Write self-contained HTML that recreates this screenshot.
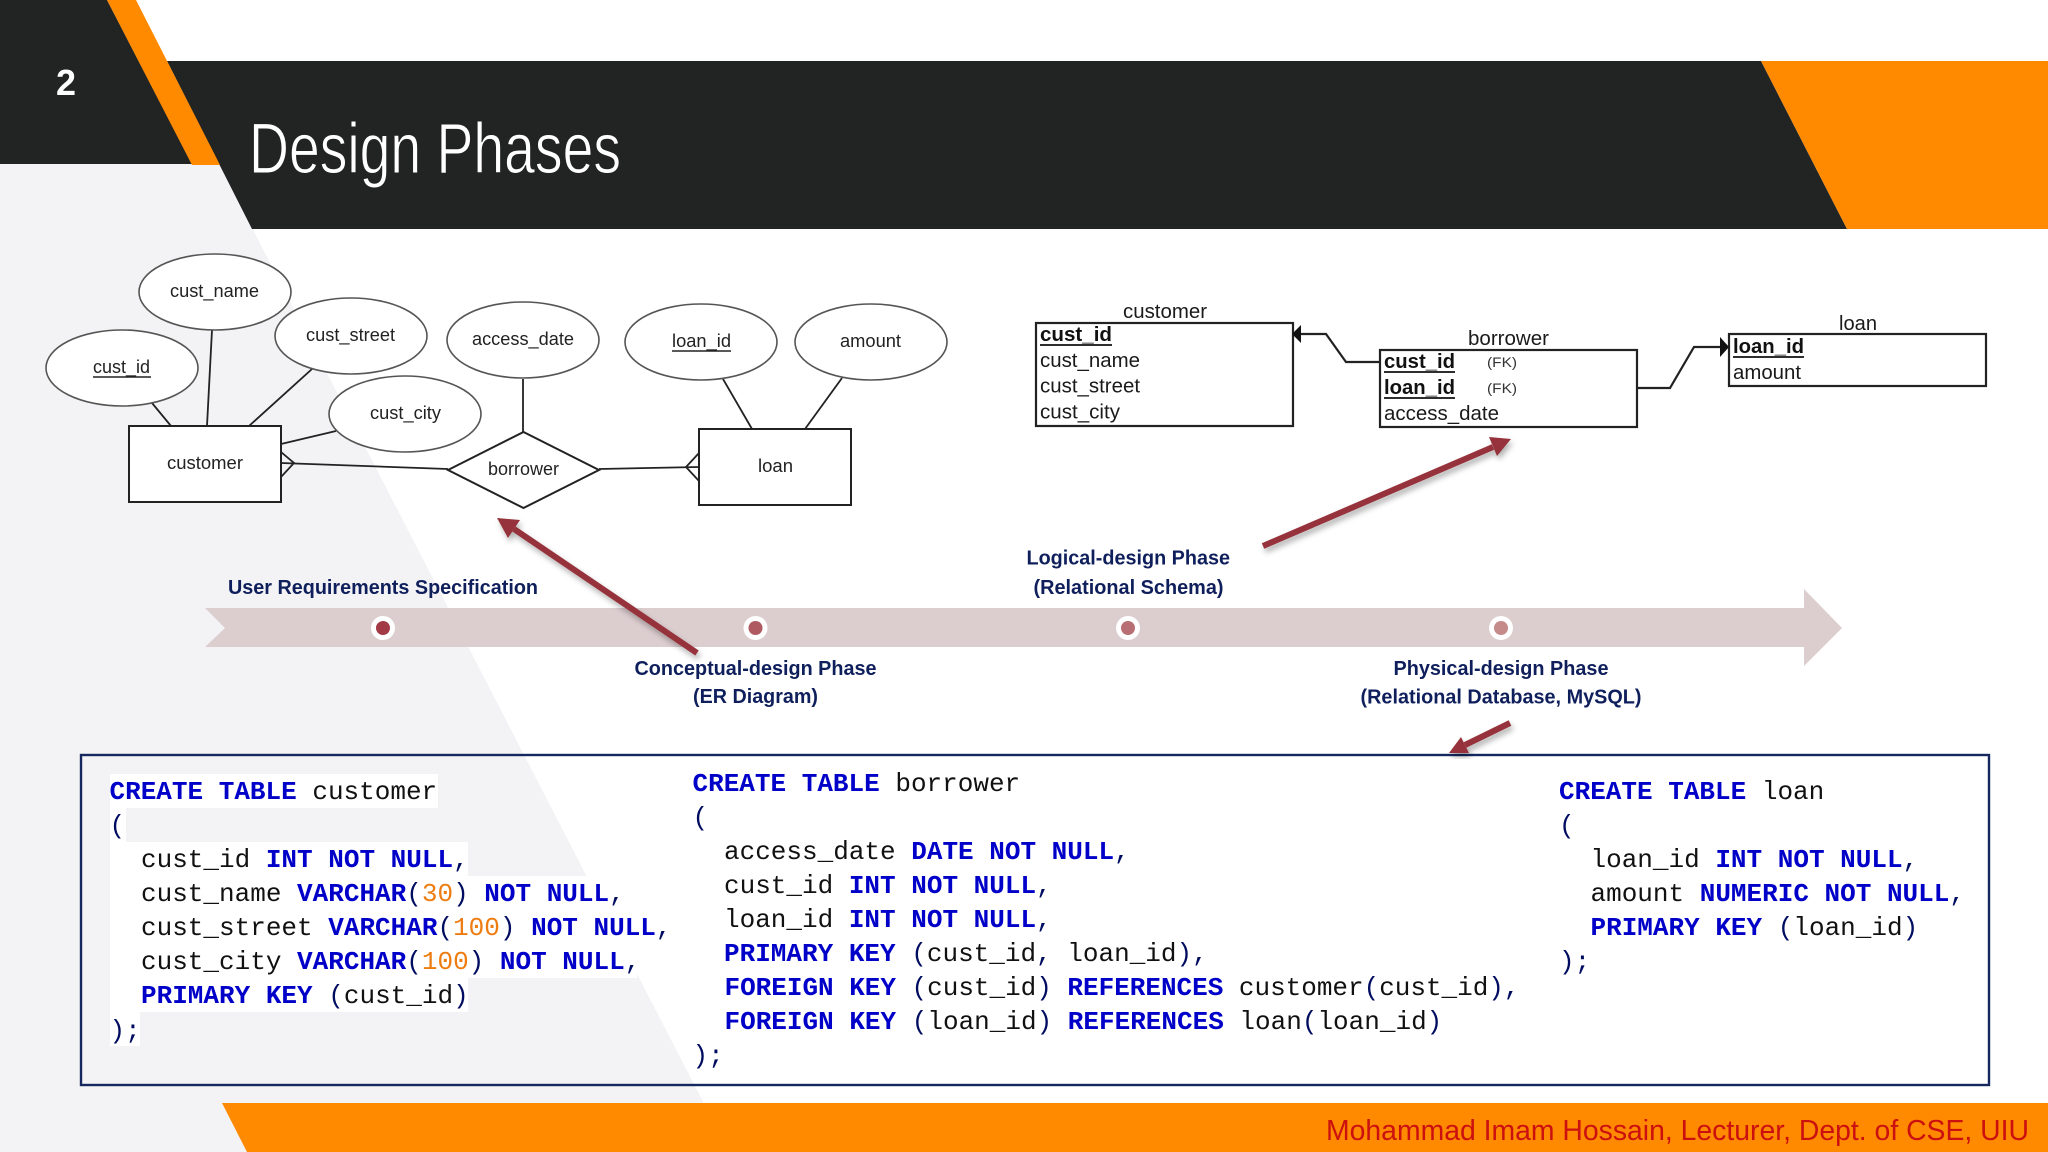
<!DOCTYPE html>
<html lang="en"><head><meta charset="utf-8"><title>Design Phases</title>
<style>
html,body{margin:0;padding:0;background:#fff}
svg{display:block}
text{font-family:"Liberation Sans",sans-serif;white-space:pre}
.er{font-size:18px;fill:#222}
.rel{font-size:20px;fill:#1a1a1a}
.relb{font-size:20px;font-weight:700;fill:#111}
.ph{font-size:20px;font-weight:700;fill:#0f1f5c}
.c{font-family:"Liberation Mono",monospace;font-size:26px;fill:#111}
.k{fill:#0000c8;font-weight:700}
.p{fill:#000c60}
.n{fill:#ee7d11}
</style></head><body>
<svg xmlns="http://www.w3.org/2000/svg" width="2048" height="1152" viewBox="0 0 2048 1152">
<defs><filter id="sh" x="-20%" y="-20%" width="140%" height="140%"><feDropShadow dx="2" dy="4" stdDeviation="3" flood-color="#000" flood-opacity="0.3"/></filter></defs>
<rect width="2048" height="1152" fill="#fff"/>
<!-- backgrounds -->
<polygon points="0,160 217,160 729,1152 0,1152" fill="#f3f3f5"/>
<polygon points="167,61 1761,61 1847,229 252,229" fill="#222323"/>
<polygon points="1761,61 2048,61 2048,229 1847,229" fill="#ff8a00"/>
<polygon points="0,0 107,0 192,164 0,164" fill="#222323"/>
<polygon points="107,0 136,0 220,165 192,165" fill="#ff8a00"/>
<polygon points="222,1103 2048,1103 2048,1152 247,1152" fill="#ff8a00"/>
<text x="56" y="95" font-size="36" font-weight="700" fill="#fff" textLength="20" lengthAdjust="spacingAndGlyphs">2</text>
<text x="249" y="173" font-size="71" fill="#fff" stroke="#222323" stroke-width="1" textLength="372" lengthAdjust="spacingAndGlyphs">Design Phases</text>
<text x="1326" y="1140" font-size="29" fill="#cc1010" textLength="703" lengthAdjust="spacingAndGlyphs">Mohammad Imam Hossain, Lecturer, Dept. of CSE, UIU</text>

<!-- ER connectors -->
<g stroke="#222" stroke-width="1.8" fill="none">
<line x1="152" y1="403" x2="171" y2="426"/>
<line x1="212" y1="330" x2="207" y2="426"/>
<line x1="312" y1="369" x2="249" y2="426"/>
<line x1="336" y1="431" x2="281" y2="444"/>
<line x1="523" y1="379" x2="523" y2="432"/>
<line x1="723" y1="379" x2="752" y2="429"/>
<line x1="842" y1="378" x2="805" y2="429"/>
<line x1="281" y1="463" x2="448" y2="469"/>
<polyline points="281,452 294,463 281,477"/>
<line x1="599" y1="469" x2="699" y2="467"/>
<polyline points="699,453 686,467 699,481"/>
</g>
<g fill="#fff" stroke="#555" stroke-width="1.6">
<ellipse cx="215" cy="292" rx="76" ry="38"/>
<ellipse cx="122" cy="368" rx="76" ry="38"/>
<ellipse cx="351" cy="336" rx="76" ry="38"/>
<ellipse cx="405" cy="414" rx="76" ry="38"/>
<ellipse cx="523" cy="340" rx="76" ry="38"/>
<ellipse cx="701" cy="342" rx="76" ry="38"/>
<ellipse cx="871" cy="342" rx="76" ry="38"/>
</g>
<g fill="#fff" stroke="#222" stroke-width="2">
<rect x="129" y="426" width="152" height="76"/>
<rect x="699" y="429" width="152" height="76"/>
<polygon points="448,470 523.5,432 599,470 523.5,508"/>
</g>
<g class="er">
<text class="er" x="170" y="297" textLength="89" lengthAdjust="spacingAndGlyphs">cust_name</text>
<text class="er" x="93" y="373" textLength="57" lengthAdjust="spacingAndGlyphs">cust_id</text>
<text class="er" x="306" y="341" textLength="89" lengthAdjust="spacingAndGlyphs">cust_street</text>
<text class="er" x="370" y="419" textLength="71" lengthAdjust="spacingAndGlyphs">cust_city</text>
<text class="er" x="472" y="345" textLength="102" lengthAdjust="spacingAndGlyphs">access_date</text>
<text class="er" x="672" y="347" textLength="59" lengthAdjust="spacingAndGlyphs">loan_id</text>
<text class="er" x="840" y="347" textLength="61" lengthAdjust="spacingAndGlyphs">amount</text>
<text class="er" x="167" y="469" textLength="76" lengthAdjust="spacingAndGlyphs">customer</text>
<text class="er" x="488" y="475" textLength="71" lengthAdjust="spacingAndGlyphs">borrower</text>
<text class="er" x="758" y="472" textLength="35" lengthAdjust="spacingAndGlyphs">loan</text>
</g>
<line x1="93" y1="377" x2="151" y2="377" stroke="#222" stroke-width="1.4"/>
<line x1="672" y1="351" x2="731" y2="351" stroke="#222" stroke-width="1.4"/>

<!-- Relational schema -->
<g fill="#fff" stroke="#222" stroke-width="2.2">
<rect x="1036" y="323" width="257" height="103"/>
<rect x="1380" y="350" width="257" height="77"/>
<rect x="1729" y="334" width="257" height="52"/>
</g>
<g fill="none" stroke="#222" stroke-width="2.2">
<polyline points="1380,362 1346,362 1326,334 1298,334"/>
<polyline points="1637,388 1670,388 1694,347 1722,347"/>
</g>
<polygon points="1292,334 1301,325 1301,343" fill="#111"/>
<polygon points="1729,347 1720,337 1720,357" fill="#111"/>
<text class="rel" x="1123" y="318" textLength="84" lengthAdjust="spacingAndGlyphs">customer</text>
<text class="relb" x="1040" y="341" textLength="72" lengthAdjust="spacingAndGlyphs">cust_id</text>
<line x1="1040" y1="345" x2="1112" y2="345" stroke="#111" stroke-width="1.8"/>
<text class="rel" x="1040" y="367" textLength="100" lengthAdjust="spacingAndGlyphs">cust_name</text>
<text class="rel" x="1040" y="392.5" textLength="100" lengthAdjust="spacingAndGlyphs">cust_street</text>
<text class="rel" x="1040" y="418.5" textLength="80" lengthAdjust="spacingAndGlyphs">cust_city</text>
<text class="rel" x="1468" y="345" textLength="81" lengthAdjust="spacingAndGlyphs">borrower</text>
<text class="relb" x="1384" y="368" textLength="71" lengthAdjust="spacingAndGlyphs">cust_id</text>
<line x1="1384" y1="372" x2="1455" y2="372" stroke="#111" stroke-width="1.8"/>
<text class="relb" x="1384" y="394" textLength="71" lengthAdjust="spacingAndGlyphs">loan_id</text>
<line x1="1384" y1="398" x2="1455" y2="398" stroke="#111" stroke-width="1.8"/>
<text class="rel" x="1384" y="420" textLength="115" lengthAdjust="spacingAndGlyphs">access_date</text>
<text x="1487" y="367" font-size="14" fill="#333" textLength="30" lengthAdjust="spacingAndGlyphs">(FK)</text>
<text x="1487" y="393" font-size="14" fill="#333" textLength="30" lengthAdjust="spacingAndGlyphs">(FK)</text>
<text class="rel" x="1839" y="330" textLength="38" lengthAdjust="spacingAndGlyphs">loan</text>
<text class="relb" x="1733" y="353" textLength="71" lengthAdjust="spacingAndGlyphs">loan_id</text>
<line x1="1733" y1="357" x2="1804" y2="357" stroke="#111" stroke-width="1.8"/>
<text class="rel" x="1733" y="379" textLength="68" lengthAdjust="spacingAndGlyphs">amount</text>

<!-- Timeline -->
<polygon points="205,608 1804,608 1804,589 1842,628 1804,666 1804,647 205,647 225,628" fill="#dccdcf"/>
<g fill="#fff">
<circle cx="383" cy="628" r="12"/><circle cx="755.5" cy="628" r="12"/><circle cx="1128" cy="628" r="12"/><circle cx="1501" cy="628" r="12"/>
</g>
<circle cx="383" cy="628" r="7" fill="#a23a45"/>
<circle cx="755.5" cy="628" r="7" fill="#ae5a60"/>
<circle cx="1128" cy="628" r="7" fill="#b86f73"/>
<circle cx="1501" cy="628" r="7" fill="#c58a8a"/>
<text class="ph" x="228" y="594" textLength="310" lengthAdjust="spacingAndGlyphs">User Requirements Specification</text>
<text class="ph" x="634.5" y="675" textLength="242" lengthAdjust="spacingAndGlyphs">Conceptual-design Phase</text>
<text class="ph" x="693" y="703" textLength="125" lengthAdjust="spacingAndGlyphs">(ER Diagram)</text>
<text class="ph" x="1026.5" y="564.5" textLength="203.5" lengthAdjust="spacingAndGlyphs">Logical-design Phase</text>
<text class="ph" x="1033.5" y="594" textLength="190" lengthAdjust="spacingAndGlyphs">(Relational Schema)</text>
<text class="ph" x="1393.5" y="675" textLength="215" lengthAdjust="spacingAndGlyphs">Physical-design Phase</text>
<text class="ph" x="1360.5" y="703.5" textLength="281" lengthAdjust="spacingAndGlyphs">(Relational Database, MySQL)</text>

<!-- white highlights behind left code -->
<g fill="#fff">
<rect x="110" y="774" width="328" height="34"/>
<rect x="110" y="808" width="16" height="34"/>
<rect x="110" y="842" width="358" height="34"/>
<rect x="110" y="876" width="512" height="34"/>
<rect x="110" y="910" width="559" height="34"/>
<rect x="110" y="944" width="527" height="34"/>
<rect x="110" y="978" width="358" height="34"/>
<rect x="110" y="1012" width="30" height="34"/>
</g>
<!-- code box -->
<rect x="81" y="755" width="1908" height="330" fill="none" stroke="#14285f" stroke-width="2.4"/>

<g transform="translate(0,-0.8)">
<!-- left code -->
<text class="c" x="109.5" y="800"><tspan class="k">CREATE TABLE</tspan> customer</text>
<text class="c p" x="109.5" y="834">(</text>
<text class="c" x="141" y="868">cust_id <tspan class="k">INT NOT NULL</tspan><tspan class="p">,</tspan></text>
<text class="c" x="141" y="902">cust_name <tspan class="k">VARCHAR</tspan><tspan class="p">(</tspan><tspan class="n">30</tspan><tspan class="p">)</tspan> <tspan class="k">NOT NULL</tspan><tspan class="p">,</tspan></text>
<text class="c" x="141" y="936">cust_street <tspan class="k">VARCHAR</tspan><tspan class="p">(</tspan><tspan class="n">100</tspan><tspan class="p">)</tspan> <tspan class="k">NOT NULL</tspan><tspan class="p">,</tspan></text>
<text class="c" x="141" y="970">cust_city <tspan class="k">VARCHAR</tspan><tspan class="p">(</tspan><tspan class="n">100</tspan><tspan class="p">)</tspan> <tspan class="k">NOT NULL</tspan><tspan class="p">,</tspan></text>
<text class="c" x="141" y="1004"><tspan class="k">PRIMARY KEY</tspan> <tspan class="p">(</tspan>cust_id<tspan class="p">)</tspan></text>
<text class="c p" x="109.5" y="1039">);</text>

<!-- middle code -->
<text class="c" x="692.5" y="792"><tspan class="k">CREATE TABLE</tspan> borrower</text>
<text class="c p" x="692.5" y="826">(</text>
<text class="c" x="724" y="860">access_date <tspan class="k">DATE NOT NULL</tspan><tspan class="p">,</tspan></text>
<text class="c" x="724" y="894">cust_id <tspan class="k">INT NOT NULL</tspan><tspan class="p">,</tspan></text>
<text class="c" x="724" y="928">loan_id <tspan class="k">INT NOT NULL</tspan><tspan class="p">,</tspan></text>
<text class="c" x="724" y="962"><tspan class="k">PRIMARY KEY</tspan> <tspan class="p">(</tspan>cust_id<tspan class="p">,</tspan> loan_id<tspan class="p">),</tspan></text>
<text class="c" x="724.5" y="996" textLength="795"><tspan class="k">FOREIGN KEY</tspan> <tspan class="p">(</tspan>cust_id<tspan class="p">)</tspan> <tspan class="k">REFERENCES</tspan> customer<tspan class="p">(</tspan>cust_id<tspan class="p">),</tspan></text>
<text class="c" x="724.5" y="1030"><tspan class="k">FOREIGN KEY</tspan> <tspan class="p">(</tspan>loan_id<tspan class="p">)</tspan> <tspan class="k">REFERENCES</tspan> loan<tspan class="p">(</tspan>loan_id<tspan class="p">)</tspan></text>
<text class="c p" x="692.5" y="1064">);</text>

<!-- right code -->
<text class="c" x="1559" y="800"><tspan class="k">CREATE TABLE</tspan> loan</text>
<text class="c p" x="1559" y="834">(</text>
<text class="c" x="1590.5" y="868">loan_id <tspan class="k">INT NOT NULL</tspan><tspan class="p">,</tspan></text>
<text class="c" x="1590.5" y="902">amount <tspan class="k">NUMERIC NOT NULL</tspan><tspan class="p">,</tspan></text>
<text class="c" x="1590.5" y="936"><tspan class="k">PRIMARY KEY</tspan> <tspan class="p">(</tspan>loan_id<tspan class="p">)</tspan></text>
<text class="c p" x="1559" y="970">);</text>
</g>

<!-- red arrows -->
<g filter="url(#sh)">
<line x1="697" y1="653" x2="514" y2="529" stroke="#96323a" stroke-width="6"/>
<polygon points="497,518 508,538 520,520" fill="#96323a"/>
</g>
<g filter="url(#sh)">
<line x1="1263" y1="546" x2="1493" y2="447" stroke="#96323a" stroke-width="6"/>
<polygon points="1511,439 1497,456 1489,437" fill="#96323a"/>
</g>
<g filter="url(#sh)">
<line x1="1510" y1="723" x2="1465" y2="745" stroke="#96323a" stroke-width="6"/>
<polygon points="1449,753 1469,753 1461,737" fill="#96323a"/>
</g>
</svg>
</body></html>
